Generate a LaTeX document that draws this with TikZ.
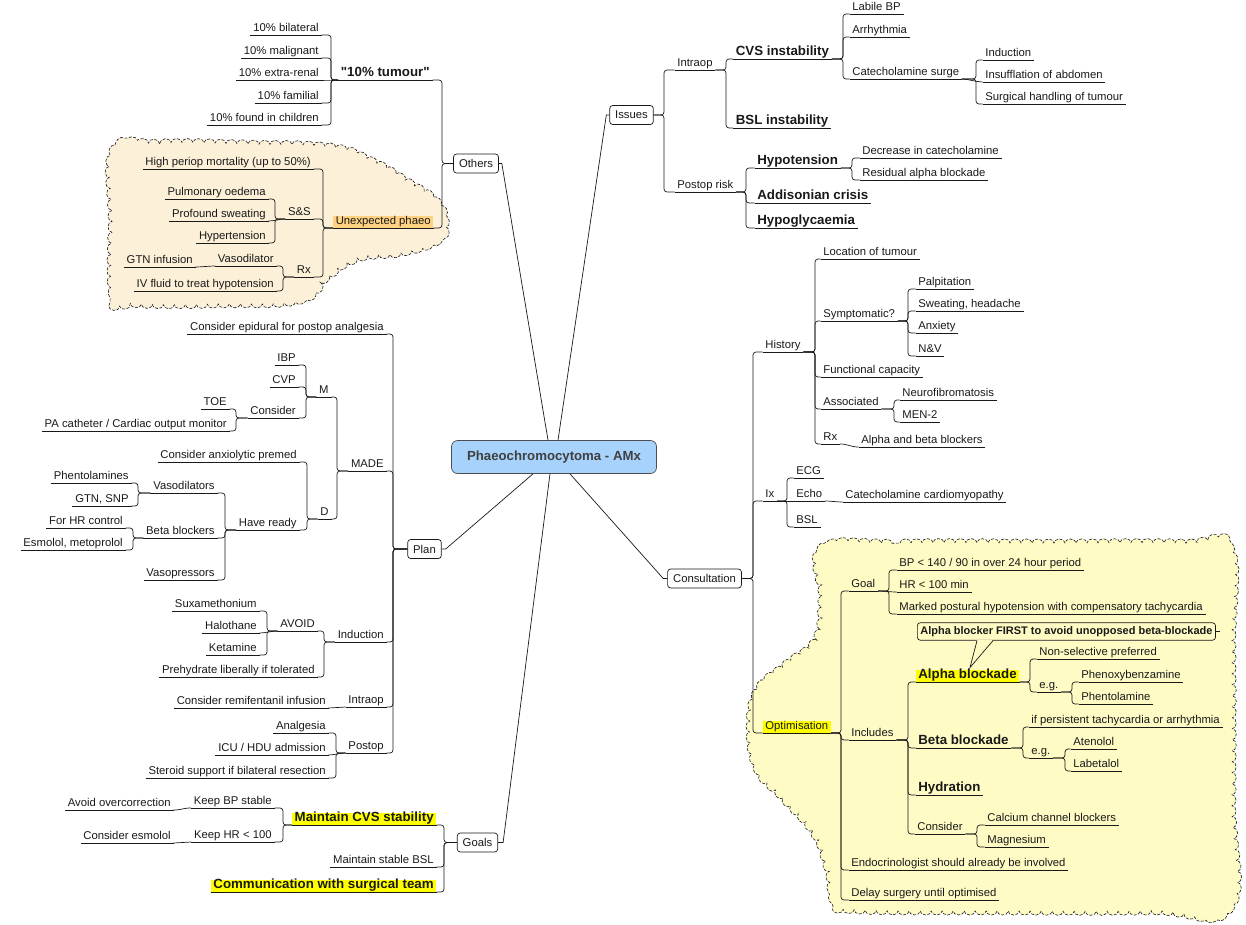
\documentclass[tikz,border=0pt]{standalone}
\usepackage{fontspec}
\usetikzlibrary{positioning,decorations.pathmorphing}

\newfontfamily\arialike{Liberation Sans}
\newcommand\nfont{\arialike\fontsize{11.3}{13.5}\selectfont}
\newcommand\hfont{\arialike\bfseries\fontsize{13.3}{15.5}\selectfont}

\definecolor{ink}{RGB}{25,25,25}
\definecolor{cloudA}{RGB}{253,240,216}
\definecolor{cloudB}{RGB}{255,251,196}
\definecolor{hlorange}{RGB}{255,210,130}
\definecolor{hlyellow}{RGB}{255,255,0}
\definecolor{ctrblue}{RGB}{166,210,252}

\begin{document}
\begin{tikzpicture}[
	x=1pt, y=-1pt, line width=.7pt, color=ink,
	topic/.style={font=\nfont, inner xsep=2.5pt, inner ysep=1pt, text height=.74em, text depth=.24em,
		append after command={(\tikzlastnode.south west) edge[uline] (\tikzlastnode.south east)}},
	rtopic/.style={topic, anchor=south west},
	ltopic/.style={topic, anchor=south east},
	big/.style={font=\hfont},
	uline/.style={to path={-- (\tikztotarget)}},
	branch/.style={rounded corners=3pt, to path={-- (\tikztostart -| #1,0) |- (\tikztotarget)}},
	scurve/.style={to path={.. controls +(#1,0) and +(-#1,0) .. (\tikztotarget)}},
	mainbox/.style={draw, rounded corners=3pt, fill=white, font=\nfont, inner xsep=5.5pt, inner ysep=0pt, minimum height=19pt},
	ctr/.style={draw=black!70, fill=ctrblue, rounded corners=6pt, minimum width=205pt, minimum height=33pt,
		font=\arialike\bfseries\fontsize{13.2}{15}\selectfont, text=black!75},
	callout/.style={draw, rounded corners=3pt, fill=cloudB, font=\arialike\bfseries\fontsize{11}{13}\selectfont,
		inner xsep=3pt, minimum height=17.5pt},
	puff/.style={draw, dash pattern=on 3pt off 1.5pt, line width=.6pt, decorate,
		decoration={bumps, segment length=22pt, amplitude=4pt}}
	]
	\useasboundingbox (0,0) rectangle (1246,924);

	% clouds
	\path[puff, fill=cloudA] plot[smooth cycle, tension=.7] coordinates {(114,150) (160,143) (250,144) (330,147)
		(370,160) (405,180) (435,200) (445,222) (438,240) (405,252) (360,258) (330,275) (300,300) (220,304)
		(140,304) (114,298) (112,220)};
	\path[puff, fill=cloudB] plot[smooth cycle, tension=.7] coordinates {(823,548) (900,543) (1050,543)
		(1180,543) (1230,548) (1232,650) (1232,800) (1230,908) (1150,911) (1000,911) (860,910) (836,903)
		(828,870) (815,835) (785,800) (758,770) (750,727) (758,690) (785,665) (815,640) (822,600)};

	% centre and main topics
	\node[ctr] (ctr) at (554,457) {Phaeochromocytoma - AMx};
	\node[mainbox] (others) at (476,163.5) {Others};
	\node[mainbox] (issues) at (631.5,115) {Issues};
	\node[mainbox] (plan) at (424.5,549) {Plan};
	\node[mainbox] (cons) at (704.5,578.5) {Consultation};
	\node[mainbox] (goals) at (477.5,842.5) {Goals};

	% issues
	\node[rtopic] (intraop) at (674.5,70) {Intraop};
	\node[rtopic] (postop) at (674.5,192) {Postop risk};
	\node[rtopic,big] (cvs) at (733,59) {CVS instability};
	\node[rtopic,big] (bsli) at (733,128) {BSL instability};
	\node[rtopic] (labile) at (849.5,14) {Labile BP};
	\node[rtopic] (arrh) at (849.5,37) {Arrhythmia};
	\node[rtopic] (surge) at (849.5,79) {Catecholamine surge};
	\node[rtopic] (induct) at (982.5,60) {Induction};
	\node[rtopic] (insuf) at (982.5,82) {Insufflation of abdomen};
	\node[rtopic] (handl) at (982.5,104) {Surgical handling of tumour};
	\node[rtopic,big] (hypot) at (754.5,168) {Hypotension};
	\node[rtopic] (decr) at (859.5,158) {Decrease in catecholamine};
	\node[rtopic] (resid) at (859.5,180) {Residual alpha blockade};
	\node[rtopic,big] (addis) at (754.5,203) {Addisonian crisis};
	\node[rtopic,big] (hypog) at (754.5,228) {Hypoglycaemia};

	% consultation
	\node[rtopic] (hist) at (762.5,352) {History};
	\node[rtopic] (ix) at (762.5,501) {Ix};
	\node[rtopic,fill=hlyellow] (optim) at (762.5,733) {Optimisation};
	\node[rtopic] (locn) at (820.5,259) {Location of tumour};
	\node[rtopic] (sympt) at (820.5,321) {Symptomatic?};
	\node[rtopic] (func) at (820.5,377) {Functional capacity};
	\node[rtopic] (assoc) at (820.5,409) {Associated};
	\node[rtopic] (rxh) at (820.5,444) {Rx};
	\node[rtopic] (palp) at (915.5,289) {Palpitation};
	\node[rtopic] (sweat) at (915.5,311) {Sweating, headache};
	\node[rtopic] (anx) at (915.5,333) {Anxiety};
	\node[rtopic] (nv) at (915.5,356) {N\&V};
	\node[rtopic] (neuro) at (899.5,400) {Neurofibromatosis};
	\node[rtopic] (men) at (899.5,422) {MEN-2};
	\node[rtopic] (abb) at (858.5,447) {Alpha and beta blockers};
	\node[rtopic] (ecg) at (793.5,478) {ECG};
	\node[rtopic] (echo) at (793.5,501) {Echo};
	\node[rtopic] (bslx) at (793.5,527) {BSL};
	\node[rtopic] (cardio) at (842.5,502) {Catecholamine cardiomyopathy};
	\node[rtopic] (goal) at (848.5,591) {Goal};
	\node[rtopic] (bp) at (896.5,570) {BP < 140 / 90 in over 24 hour period};
	\node[rtopic] (hr) at (896.5,592) {HR < 100 min};
	\node[rtopic] (postur) at (896.5,614) {Marked postural hypotension with compensatory tachycardia};
	\node[rtopic] (incl) at (848.5,740) {Includes};
	\node[rtopic,big,fill=hlyellow] (alpha) at (915.5,682) {Alpha blockade};
	\node[rtopic,big] (beta) at (915.5,748) {Beta blockade};
	\node[rtopic,big] (hydr) at (915.5,795) {Hydration};
	\node[rtopic] (consid) at (914.5,834) {Consider};
	\node[rtopic] (nonsel) at (1036.5,659) {Non-selective preferred};
	\node[rtopic] (egA) at (1036.5,692) {e.g.};
	\node[rtopic] (phenoxy) at (1078.5,682) {Phenoxybenzamine};
	\node[rtopic] (phentol) at (1078.5,704) {Phentolamine};
	\node[rtopic] (persist) at (1028.5,727) {if persistent tachycardia or arrhythmia};
	\node[rtopic] (egB) at (1028.5,758) {e.g.};
	\node[rtopic] (aten) at (1070.5,749) {Atenolol};
	\node[rtopic] (labet) at (1070.5,771) {Labetalol};
	\node[rtopic] (calc) at (984.5,825) {Calcium channel blockers};
	\node[rtopic] (magn) at (984.5,847) {Magnesium};
	\node[rtopic] (endo) at (848.5,870) {Endocrinologist should already be involved};
	\node[rtopic] (delay) at (848.5,900) {Delay surgery until optimised};
	\node[callout, anchor=west] (note) at (917,631.5) {Alpha blocker FIRST to avoid unopposed beta-blockade};

	% others
	\node[ltopic,big] (tum) at (432.5,80) {"10\% tumour"};
	\node[ltopic,fill=hlorange] (unexp) at (433.5,228) {Unexpected phaeo};
	\node[ltopic] (bilat) at (321.5,35) {10\% bilateral};
	\node[ltopic] (malig) at (321.5,58) {10\% malignant};
	\node[ltopic] (extra) at (321.5,80) {10\% extra-renal};
	\node[ltopic] (famil) at (321.5,103) {10\% familial};
	\node[ltopic] (child) at (321.5,125) {10\% found in children};
	\node[ltopic] (mort) at (313.5,169) {High periop mortality (up to 50\%)};
	\node[ltopic] (ss) at (313.5,219) {S\&S};
	\node[ltopic] (rxo) at (313.5,277) {Rx};
	\node[ltopic] (pulm) at (268.5,199) {Pulmonary oedema};
	\node[ltopic] (sweatp) at (268.5,221) {Profound sweating};
	\node[ltopic] (hypert) at (268.5,243) {Hypertension};
	\node[ltopic] (vasodil) at (276.5,266) {Vasodilator};
	\node[ltopic] (gtn) at (195.5,267) {GTN infusion};
	\node[ltopic] (ivf) at (276.5,291) {IV fluid to treat hypotension};

	% plan
	\node[ltopic] (epid) at (386.5,334) {Consider epidural for postop analgesia};
	\node[ltopic] (made) at (386.5,471) {MADE};
	\node[ltopic] (induc) at (386.5,642) {Induction};
	\node[ltopic] (intra) at (386.5,707) {Intraop};
	\node[ltopic] (posto) at (386.5,753) {Postop};
	\node[ltopic] (mon) at (331.5,397) {M};
	\node[ltopic] (dru) at (331.5,519) {D};
	\node[ltopic] (ibp) at (298.5,365) {IBP};
	\node[ltopic] (cvp) at (298.5,387) {CVP};
	\node[ltopic] (consm) at (298.5,418) {Consider};
	\node[ltopic] (toe) at (229.5,409) {TOE};
	\node[ltopic] (pacath) at (229.5,431) {PA catheter / Cardiac output monitor};
	\node[ltopic] (premed) at (299.5,462) {Consider anxiolytic premed};
	\node[ltopic] (ready) at (299.5,530) {Have ready};
	\node[ltopic] (vasod) at (217.5,493) {Vasodilators};
	\node[ltopic] (betab) at (217.5,538) {Beta blockers};
	\node[ltopic] (vpress) at (217.5,580) {Vasopressors};
	\node[ltopic] (phent) at (131.5,483) {Phentolamines};
	\node[ltopic] (gtnsnp) at (131.5,506) {GTN, SNP};
	\node[ltopic] (hrctl) at (125.5,528) {For HR control};
	\node[ltopic] (esmo) at (125.5,550) {Esmolol, metoprolol};
	\node[ltopic] (avoid) at (317.5,631) {AVOID};
	\node[ltopic] (prehyd) at (317.5,677) {Prehydrate liberally if tolerated};
	\node[ltopic] (sux) at (259.5,611) {Suxamethonium};
	\node[ltopic] (halo) at (259.5,633) {Halothane};
	\node[ltopic] (keta) at (259.5,655) {Ketamine};
	\node[ltopic] (remi) at (328.5,708) {Consider remifentanil infusion};
	\node[ltopic] (analg) at (328.5,733) {Analgesia};
	\node[ltopic] (icu) at (328.5,755) {ICU / HDU admission};
	\node[ltopic] (steroid) at (328.5,778) {Steroid support if bilateral resection};

	% goals
	\node[ltopic,big,fill=hlyellow] (mcvs) at (436.5,825) {Maintain CVS stability};
	\node[ltopic] (mbsl) at (436.5,867) {Maintain stable BSL};
	\node[ltopic,big,fill=hlyellow] (comm) at (436.5,892) {Communication with surgical team};
	\node[ltopic] (kbp) at (274.5,808) {Keep BP stable};
	\node[ltopic] (khr) at (274.5,842) {Keep HR < 100};
	\node[ltopic] (overc) at (173.5,810) {Avoid overcorrection};
	\node[ltopic] (cesmo) at (173.5,843) {Consider esmolol};

	% callout pointer
	\coordinate (tip) at ([xshift=54.5pt,yshift=2pt]alpha.north west);
	\fill[cloudB] ([xshift=60pt,yshift=.8pt]note.south west) -- (tip) -- ([xshift=76pt,yshift=.8pt]note.south west) -- cycle;
	\draw ([xshift=60pt]note.south west) -- (tip) -- ([xshift=76pt]note.south west);
	\draw (note.east) -- ++(4,0);

	% spokes from the centre
	\draw ([xshift=-6pt]ctr.north) -- ([xshift=3pt]others.east) -- (others.east);
	\draw ([xshift=4pt]ctr.north) -- ([xshift=-3pt]issues.west) -- (issues.west);
	\draw ([xshift=-21pt]ctr.south) -- ([xshift=4pt]plan.east) -- (plan.east);
	\draw ([xshift=-4pt]ctr.south) -- ([xshift=5pt]goals.east) -- (goals.east);
	\draw ([xshift=16pt]ctr.south) -- ([xshift=-4pt]cons.west) -- (cons.west);

	\path
	(issues.east) edge[branch=664] (intraop.south west) edge[branch=664] (postop.south west)
	(intraop.south east) edge[branch=726] (cvs.south west) edge[branch=726] (bsli.south west)
	(cvs.south east) edge[branch=843] (labile.south west) edge[branch=843] (arrh.south west)
		edge[branch=843] (surge.south west)
	(surge.south east) edge[branch=976] (induct.south west) edge[scurve=6] (insuf.south west)
		edge[branch=976] (handl.south west)
	(postop.south east) edge[branch=746] (hypot.south west) edge[branch=746] (addis.south west)
		edge[branch=746] (hypog.south west)
	(hypot.south east) edge[branch=852] (decr.south west) edge[branch=852] (resid.south west)

	(cons.east) edge[branch=753] (hist.south west) edge[branch=753] (ix.south west) edge[branch=753] (optim.south west)
	(hist.south east) edge[branch=815] (locn.south west) edge[branch=815] (sympt.south west)
		edge[branch=815] (func.south west) edge[branch=815] (assoc.south west) edge[branch=815] (rxh.south west)
	(sympt.south east) edge[branch=908] (palp.south west) edge[branch=908] (sweat.south west)
		edge[branch=908] (anx.south west) edge[branch=908] (nv.south west)
	(assoc.south east) edge[branch=894] (neuro.south west) edge[branch=894] (men.south west)
	(rxh.south east) edge[scurve=8] (abb.south west)
	(ix.south east) edge[branch=787] (ecg.south west) edge[scurve=5] (echo.south west) edge[branch=787] (bslx.south west)
	(echo.south east) edge[scurve=6] (cardio.south west)
	(optim.south east) edge[branch=841] (goal.south west) edge[branch=841] (incl.south west)
		edge[branch=841] (endo.south west) edge[branch=841] (delay.south west)
	(goal.south east) edge[branch=889] (bp.south west) edge[scurve=6] (hr.south west) edge[branch=889] (postur.south west)
	(incl.south east) edge[branch=908] (alpha.south west) edge[branch=908] (beta.south west)
		edge[branch=908] (hydr.south west) edge[branch=908] (consid.south west)
	(alpha.south east) edge[branch=1030] (nonsel.south west) edge[branch=1030] (egA.south west)
	(egA.south east) edge[branch=1072] (phenoxy.south west) edge[branch=1072] (phentol.south west)
	(beta.south east) edge[branch=1023] (persist.south west) edge[branch=1023] (egB.south west)
	(egB.south east) edge[branch=1065] (aten.south west) edge[branch=1065] (labet.south west)
	(consid.south east) edge[branch=977] (calc.south west) edge[branch=977] (magn.south west)

	(others.west) edge[branch=442] (tum.south east) edge[branch=442] (unexp.south east)
	(tum.south west) edge[branch=331] (bilat.south east) edge[branch=331] (malig.south east)
		edge[scurve=-5] (extra.south east) edge[branch=331] (famil.south east) edge[branch=331] (child.south east)
	(unexp.south west) edge[branch=323] (mort.south east) edge[branch=323] (ss.south east) edge[branch=323] (rxo.south east)
	(ss.south west) edge[branch=275] (pulm.south east) edge[scurve=-6] (sweatp.south east) edge[branch=275] (hypert.south east)
	(rxo.south west) edge[branch=283] (vasodil.south east) edge[branch=283] (ivf.south east)
	(vasodil.south west) edge[scurve=-6] (gtn.south east)

	(plan.west) edge[branch=393] (epid.south east) edge[branch=393] (made.south east)
		edge[branch=393] (induc.south east) edge[branch=393] (intra.south east) edge[branch=393] (posto.south east)
	(made.south west) edge[branch=337] (mon.south east) edge[branch=337] (dru.south east)
	(mon.south west) edge[branch=306] (ibp.south east) edge[branch=306] (cvp.south east) edge[branch=306] (consm.south east)
	(consm.south west) edge[branch=236] (toe.south east) edge[branch=236] (pacath.south east)
	(dru.south west) edge[branch=307] (premed.south east) edge[branch=307] (ready.south east)
	(ready.south west) edge[branch=225] (vasod.south east) edge[branch=225] (betab.south east) edge[branch=225] (vpress.south east)
	(vasod.south west) edge[branch=138] (phent.south east) edge[branch=138] (gtnsnp.south east)
	(betab.south west) edge[branch=133] (hrctl.south east) edge[branch=133] (esmo.south east)
	(induc.south west) edge[branch=324] (avoid.south east) edge[branch=324] (prehyd.south east)
	(avoid.south west) edge[branch=267] (sux.south east) edge[scurve=-6] (halo.south east) edge[branch=267] (keta.south east)
	(intra.south west) edge[scurve=-8] (remi.south east)
	(posto.south west) edge[branch=336] (analg.south east) edge[scurve=-6] (icu.south east) edge[branch=336] (steroid.south east)

	(goals.west) edge[branch=444] (mcvs.south east) edge[branch=444] (mbsl.south east) edge[branch=444] (comm.south east)
	(mcvs.south west) edge[branch=283] (kbp.south east) edge[branch=283] (khr.south east)
	(kbp.south west) edge[scurve=-8] (overc.south east)
	(khr.south west) edge[scurve=-8] (cesmo.south east);
\end{tikzpicture}
\end{document}
